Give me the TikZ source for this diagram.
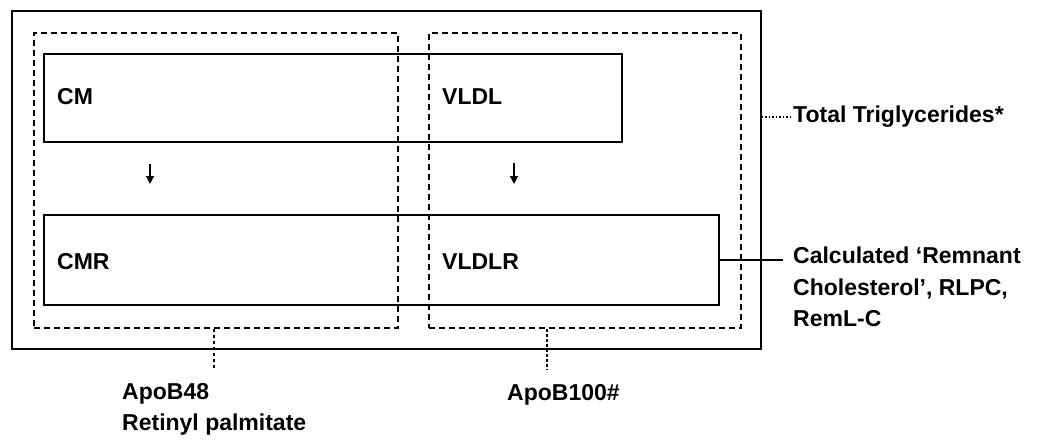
\documentclass[tikz,border=0pt]{standalone}
\usepackage{fontspec}
\setmainfont{Liberation Sans}
\usetikzlibrary{arrows.meta}
\begin{document}
\begin{tikzpicture}[x=1pt,y=-1pt,
  solidbox/.style={draw=black, line width=1.8pt, inner sep=0pt},
  dashbox/.style={draw=black, line width=1.8pt, dash pattern=on 6pt off 4pt, inner sep=0pt},
  lbl/.style={font=\fontsize{23}{31.5}\selectfont\bfseries, anchor=west, inner sep=0pt, align=left},
  flow/.style={line width=1.4pt, -{Triangle[length=8pt,width=8pt]}},
  lead/.style={line width=1.5pt}]
\useasboundingbox (0,0) rectangle (1047,442);
% outer and grouping boxes
\node[solidbox, minimum width=749pt, minimum height=338pt, anchor=north west] (outer) at (11,10) {};
\node[dashbox, minimum width=364pt, minimum height=295pt, anchor=north west] (apob48box) at (33,32) {};
\node[dashbox, minimum width=312pt, minimum height=295pt, anchor=north west] (apob100box) at (428,32) {};
% lipoprotein boxes
\node[solidbox, minimum width=578pt, minimum height=88pt, anchor=north west] (topbox) at (43,53) {};
\node[solidbox, minimum width=675pt, minimum height=90pt, anchor=north west] (botbox) at (43,214) {};
% texts in boxes
\node[lbl] (cm) at (57,97) {CM};
\node[lbl] (vldl) at (442,97) {VLDL};
\node[lbl] (cmr) at (57,262) {CMR};
\node[lbl] (vldlr) at (442,262) {VLDLR};
% small arrows
\coordinate (a1s) at (150,164);
\coordinate (a1e) at (150,184);
\coordinate (a2s) at (514,163);
\coordinate (a2e) at (514,184);
\draw[flow] (a1s) -- (a1e);
\draw[flow] (a2s) -- (a2e);
% right labels
\node[lbl] (tg) at (793,117) {Total Triglycerides*};
\draw[lead, dotted] (outer.east |- tg.west) -- (tg.west);
\node[lbl, anchor=north west] (calc) at (793,247) {Calculated ‘Remnant\\Cholesterol’, RLPC,\\RemL-C};
\coordinate (calcin) at (783,260);
\draw[lead] (botbox.east |- calcin) -- (calcin);
% bottom labels
\node[lbl, anchor=north west] (apob48) at (122,383) {ApoB48\\Retinyl palmitate};
\coordinate (b48) at (214,370);
\draw[lead, dashed] (apob48box.south -| b48) -- (b48);
\node[lbl] (apob100) at (507,395) {ApoB100\#};
\coordinate (b100) at (547,370);
\draw[lead, densely dashed] (apob100box.south -| b100) -- (b100);
\end{tikzpicture}
\end{document}
